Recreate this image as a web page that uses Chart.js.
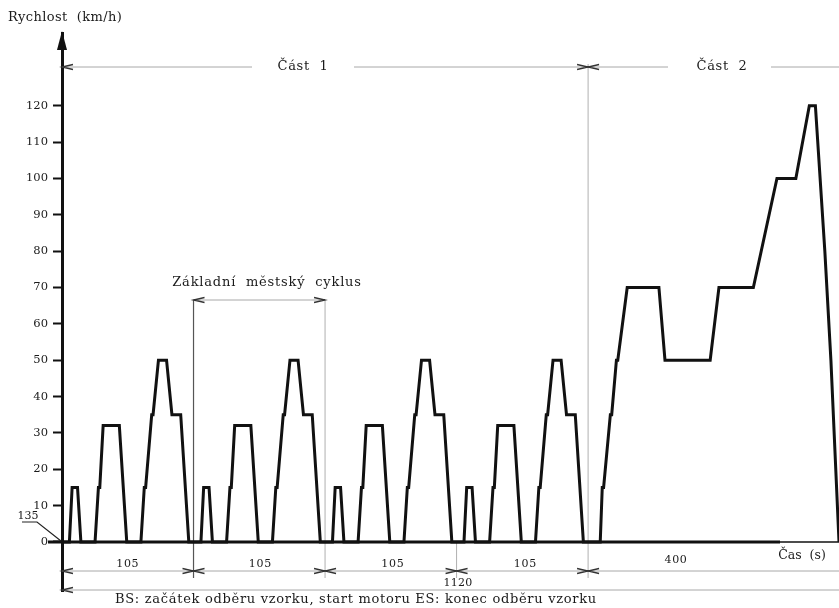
<!DOCTYPE html>
<html>
<head>
<meta charset="utf-8">
<script src="https://cdn.jsdelivr.net/npm/chart.js@4.4.1/dist/chart.umd.min.js"></script>
<style>
  html, body { margin: 0; padding: 0; background: #fff; }
  canvas { display: block; }
</style>
</head>
<body>
<canvas id="nedc" width="839" height="608"></canvas>
<script>
// Cast 1 - four urban cycles (time s, speed km/h)
const casCast1 = [
    0, 11, 15, 23, 28, 49, 54, 56, 61, 85, 96, 117, 122, 124, 133, 135, 143, 155, 163, 176, 188,
    195, 206, 210, 218, 223, 244, 249, 251, 256, 280, 291, 312, 317, 319, 328, 330, 338, 350, 358, 371, 383,
    390, 401, 405, 413, 418, 439, 444, 446, 451, 475, 486, 507, 512, 514, 523, 525, 533, 545, 553, 566, 578,
    585, 596, 600, 608, 613, 634, 639, 641, 646, 670, 681, 702, 707, 709, 718, 720, 728, 740, 748, 761, 773
];
const rychlostCast1 = [
    0, 0, 15, 15, 0, 0, 15, 15, 32, 32, 0, 0, 15, 15, 35, 35, 50, 50, 35, 35, 0,
    0, 0, 15, 15, 0, 0, 15, 15, 32, 32, 0, 0, 15, 15, 35, 35, 50, 50, 35, 35, 0,
    0, 0, 15, 15, 0, 0, 15, 15, 32, 32, 0, 0, 15, 15, 35, 35, 50, 50, 35, 35, 0,
    0, 0, 15, 15, 0, 0, 15, 15, 32, 32, 0, 0, 15, 15, 35, 35, 50, 50, 35, 35, 0
];
// Cast 2 - extra-urban part
const casCast2 = [780, 798, 801, 803, 813, 815, 822, 824, 838, 885, 894, 961, 974, 1025, 1060, 1088, 1108, 1117, 1131, 1140, 1152];
const rychlostCast2 = [0, 0, 15, 15, 35, 35, 50, 50, 70, 70, 50, 50, 70, 70, 100, 100, 120, 120, 80, 50, 0];

const yTicks = [0, 10, 20, 30, 40, 50, 60, 70, 80, 90, 100, 110, 120];
const hraniceUseku = [0, 195, 390, 585, 780];
const delkyUseku = ['105', '105', '105', '105'];

const serif = '"DejaVu Serif", "Liberation Serif", serif';
const ink = '#1a1a1a';

function seg(ctx, x1, y1, x2, y2) {
    ctx.beginPath();
    ctx.moveTo(x1, y1);
    ctx.lineTo(x2, y2);
    ctx.stroke();
}

// dir -1: tip points left, +1: tip points right
function arrow(ctx, x, y, dir) {
    ctx.beginPath();
    ctx.moveTo(x - dir * 11, y - 2.5);
    ctx.lineTo(x, y);
    ctx.lineTo(x - dir * 11, y + 2.5);
    ctx.stroke();
}

function text(ctx, s, x, y, size, align, spacing) {
    ctx.font = size + 'px ' + serif;
    ctx.letterSpacing = (spacing || 0) + 'px';
    ctx.textAlign = align || 'center';
    ctx.textBaseline = 'middle';
    ctx.fillStyle = ink;
    ctx.fillText(s, x, y);
    ctx.letterSpacing = '0px';
}

const annotations = {
    id: 'annotations',
    beforeDatasetsDraw(chart) {
        const {ctx, scales: {x, y}} = chart;
        const y0 = y.getPixelForValue(0);
        ctx.save();
        ctx.lineCap = 'butt';

        // vertical helper lines
        const px = hraniceUseku.map(t => x.getPixelForValue(t));
        ctx.lineWidth = 1.2;
        ctx.strokeStyle = '#555';
        seg(ctx, px[1], 300, px[1], 578);
        ctx.strokeStyle = '#b0b0b0';
        ctx.lineWidth = 1;
        seg(ctx, px[2], 300, px[2], 578);
        seg(ctx, px[3], y0, px[3], 578);
        seg(ctx, px[4], 64, px[4], 578);

        // zero line
        ctx.strokeStyle = '#111';
        ctx.lineWidth = 3;
        seg(ctx, 48, y0, 780, y0);
        ctx.lineWidth = 1.6;
        seg(ctx, 780, y0, chart.chartArea.right, y0);
        ctx.restore();
    },
    afterDraw(chart) {
        const {ctx, scales: {x, y}} = chart;
        const left = x.getPixelForValue(0);
        const right = chart.chartArea.right;
        const px = hraniceUseku.map(t => x.getPixelForValue(t));
        ctx.save();

        // arrow head of the y axis
        ctx.fillStyle = '#111';
        ctx.beginPath();
        ctx.moveTo(left, 31);
        ctx.lineTo(left - 5, 50);
        ctx.lineTo(left + 5, 50);
        ctx.closePath();
        ctx.fill();

        text(ctx, 'Rychlost  (km/h)', 8, 18, 13, 'left', 0.4);

        // top dimension line: Cast 1 / Cast 2
        ctx.strokeStyle = '#a8a8a8';
        ctx.lineWidth = 1;
        const yTop = 67;
        seg(ctx, left, yTop, 252, yTop);
        seg(ctx, 354, yTop, 668, yTop);
        seg(ctx, 771, yTop, right, yTop);
        ctx.strokeStyle = '#333';
        ctx.lineWidth = 1.3;
        arrow(ctx, left, yTop, -1);
        arrow(ctx, px[4], yTop, 1);
        arrow(ctx, px[4], yTop, -1);
        text(ctx, 'Část  1', 303, yTop, 13, 'center', 0.7);
        text(ctx, 'Část  2', 722, yTop, 13, 'center', 0.7);

        // bracket of the basic urban cycle
        ctx.strokeStyle = '#a8a8a8';
        ctx.lineWidth = 1;
        seg(ctx, px[1], 300, px[2], 300);
        ctx.strokeStyle = '#333';
        ctx.lineWidth = 1.3;
        arrow(ctx, px[1], 300, -1);
        arrow(ctx, px[2], 300, 1);
        text(ctx, 'Základní  městský  cyklus', 267, 283, 13, 'center', 0.8);

        // lower dimension lines
        const yDim1 = 571, yDim2 = 590;
        ctx.strokeStyle = '#a8a8a8';
        ctx.lineWidth = 1;
        seg(ctx, left, yDim1, right, yDim1);
        seg(ctx, left, yDim2, right, yDim2);
        ctx.strokeStyle = '#333';
        ctx.lineWidth = 1.3;
        arrow(ctx, left, yDim1, -1);
        arrow(ctx, left, yDim2, -1);
        for (let i = 1; i < px.length; i++) {
            arrow(ctx, px[i], yDim1, 1);
            arrow(ctx, px[i], yDim1, -1);
        }
        delkyUseku.forEach((s, i) => text(ctx, s, (px[i] + px[i + 1]) / 2 + i, 564, 11, 'center', 0.7));
        text(ctx, '400', 676, 560, 11, 'center', 0.7);
        text(ctx, '1120', 458, 583, 11, 'center', 0.3);
        text(ctx, 'Čas  (s)', 802, 556, 12.5);

        // 135 leader
        text(ctx, '135', 28, 516, 11);
        ctx.strokeStyle = '#222';
        ctx.lineWidth = 1.2;
        ctx.beginPath();
        ctx.moveTo(22, 522);
        ctx.lineTo(37, 522);
        ctx.lineTo(left - 1, y.getPixelForValue(0) - 1);
        ctx.stroke();

        text(ctx, 'BS: začátek odběru vzorku, start motoru ES: konec odběru vzorku', 115, 600, 13, 'left', 0.7);
        ctx.restore();
    }
};

const body = casCast1.map((t, i) => ({x: t, y: rychlostCast1[i]}))
    .concat(casCast2.map((t, i) => ({x: t, y: rychlostCast2[i]})));

new Chart(document.getElementById('nedc'), {
    type: 'line',
    data: {
        datasets: [{
            data: body,
            borderColor: '#111',
            borderWidth: 3,
            pointRadius: 0,
            tension: 0,
            fill: false,
        }],
    },
    options: {
        responsive: false,
        animation: false,
        devicePixelRatio: 1,
        layout: {padding: {top: 33, bottom: 17, left: 0, right: 0}},
        plugins: {
            legend: {display: false},
            tooltip: {enabled: false},
        },
        scales: {
            x: {
                type: 'linear',
                display: false,
                min: 0,
                max: 1152,
            },
            y: {
                min: -13.5,
                max: 140,
                afterFit: s => { s.width = 62; },
                afterBuildTicks: s => { s.ticks = yTicks.map(v => ({value: v})); },
                border: {display: true, color: '#111', width: 3},
                grid: {
                    drawOnChartArea: false,
                    tickLength: 9,
                    tickWidth: 2,
                    tickColor: '#111',
                },
                ticks: {
                    padding: 5,
                    color: ink,
                    font: {family: serif, size: 11.5},
                },
            },
        },
    },
    plugins: [annotations],
});
</script>
</body>
</html>
